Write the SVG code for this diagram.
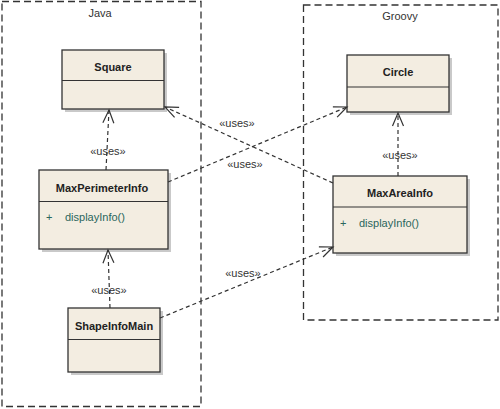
<svg xmlns="http://www.w3.org/2000/svg" width="500" height="409" viewBox="0 0 500 409">
<defs>
<marker id="open" markerUnits="userSpaceOnUse" markerWidth="20" markerHeight="20" refX="0" refY="0" orient="auto" overflow="visible">
<path d="M -13,-5.5 L 0,0 L -13,5.5" fill="none" stroke="#333" stroke-width="1.2"/>
</marker>
</defs>
<style>
.pkg{fill:none;stroke:#333;stroke-width:1.3;stroke-dasharray:7 4}
.pkgl{font-family:"Liberation Sans",Arial,sans-serif;font-size:11px;fill:#333;text-anchor:middle}
.box{fill:#f3ede1;stroke:#333;stroke-width:1.3}
.sh{fill:#c9c9c9}
.div{stroke:#333;stroke-width:1.2}
.name{font-family:"Liberation Sans",Arial,sans-serif;font-size:11px;font-weight:bold;fill:#222;text-anchor:middle}
.op{font-family:"Liberation Sans",Arial,sans-serif;font-size:11px;fill:#2a665c}
.dep{fill:none;stroke:#333;stroke-width:1.2;stroke-dasharray:4 3;marker-end:url(#open)}
.lbl{font-family:"Liberation Sans",Arial,sans-serif;font-size:11px;fill:#333;text-anchor:middle}
</style>
<g id="pkg-java">
<rect class="pkg" x="2" y="1.5" width="199" height="405"/>
<text class="pkgl" x="100" y="17">Java</text>
</g>
<g id="pkg-groovy">
<rect class="pkg" x="303.5" y="5" width="194.5" height="315"/>
<text class="pkgl" x="400" y="20">Groovy</text>
</g>
<g id="Square">
<rect class="sh" x="65" y="53" width="102" height="59"/>
<rect class="box" x="62" y="50" width="102" height="59"/>
<line class="div" x1="62" y1="80.5" x2="164" y2="80.5"/>
<text class="name" x="113" y="71">Square</text>
</g>
<g id="Circle">
<rect class="sh" x="350" y="58" width="102" height="57"/>
<rect class="box" x="347" y="55" width="102" height="57"/>
<line class="div" x1="347" y1="87" x2="449" y2="87"/>
<text class="name" x="398" y="76">Circle</text>
</g>
<g id="MaxPerimeterInfo">
<rect class="sh" x="42" y="173" width="129" height="79"/>
<rect class="box" x="39" y="170" width="129" height="79"/>
<line class="div" x1="39" y1="201.5" x2="168" y2="201.5"/>
<text class="name" x="102" y="192">MaxPerimeterInfo</text>
<text class="op" x="46" y="221">+</text>
<text class="op" x="65" y="221">displayInfo()</text>
</g>
<g id="MaxAreaInfo">
<rect class="sh" x="336" y="179" width="134" height="77"/>
<rect class="box" x="333" y="176" width="134" height="77"/>
<line class="div" x1="333" y1="207" x2="467" y2="207"/>
<text class="name" x="400" y="197">MaxAreaInfo</text>
<text class="op" x="340" y="227">+</text>
<text class="op" x="359" y="227">displayInfo()</text>
</g>
<g id="ShapeInfoMain">
<rect class="sh" x="71" y="311" width="92" height="64"/>
<rect class="box" x="68" y="308" width="92" height="64"/>
<line class="div" x1="68" y1="339.5" x2="160" y2="339.5"/>
<text class="name" x="114" y="330">ShapeInfoMain</text>
</g>
<g id="connectors">
<path class="dep" d="M 106,170 L 109,110"/>
<path class="dep" d="M 333,183 L 165,107"/>
<path class="dep" d="M 168,182 L 347,107"/>
<path class="dep" d="M 110,308 L 108,250"/>
<path class="dep" d="M 160,318 L 333,247"/>
<path class="dep" d="M 398,176 L 398,113"/>
<text class="lbl" x="108" y="155">«uses»</text>
<text class="lbl" x="237" y="127">«uses»</text>
<text class="lbl" x="245" y="168">«uses»</text>
<text class="lbl" x="109" y="294">«uses»</text>
<text class="lbl" x="243" y="277">«uses»</text>
<text class="lbl" x="400" y="159">«uses»</text>
</g>
</svg>
